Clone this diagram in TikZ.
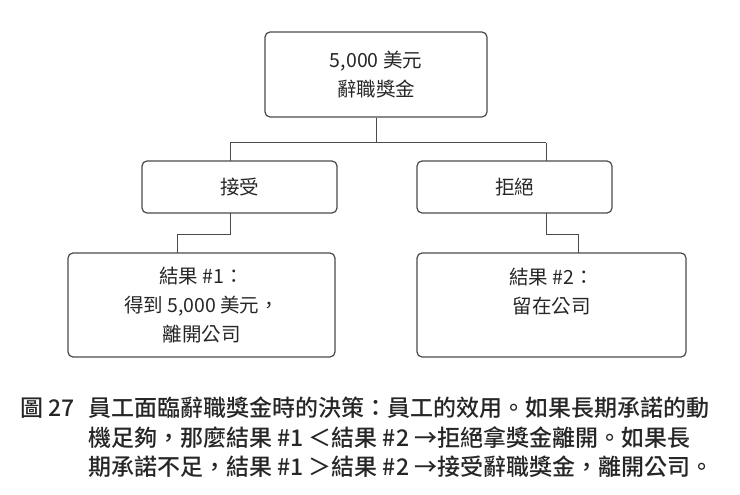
\documentclass[tikz,border=0pt]{standalone}
\usepackage{fontspec}
\setmainfont{Noto Sans CJK TC}
\newfontfamily\capfont{Noto Sans CJK TC Medium}
\usetikzlibrary{positioning}
\definecolor{linegray}{HTML}{4A4A4A}
\tikzstyle{block} = [rectangle, draw=linegray, line width=1.2pt, rounded corners=5pt,
    text=black!85, align=center, font=\fontsize{19.5}{29}\selectfont, inner sep=0pt]
\tikzstyle{line} = [draw=linegray, line width=1pt]
\tikzstyle{caption} = [anchor=west, inner sep=0pt, font=\capfont\fontsize{23}{24}\selectfont, text=black!85]
\begin{document}
\begin{tikzpicture}[x=1pt, y=-1pt]
    \useasboundingbox (0,0) rectangle (740,495);
    % Place nodes
    \node [block, minimum width=222pt, minimum height=85pt] (top) at (376,74.5) {5,000 美元\\辭職獎金};
    \node [block, minimum width=195pt, minimum height=52pt] (accept) at (239.5,187) {接受};
    \node [block, minimum width=195pt, minimum height=52pt] (reject) at (514.5,187) {拒絕};
    \node [block, minimum width=267pt, minimum height=104pt] (out1) at (201.5,305) {結果 \#1：\\得到 5,000 美元，\\離開公司};
    \node [block, minimum width=269pt, minimum height=104pt] (out2) at (551.5,305) {結果 \#2：\\留在公司\\\phantom{x}};
    \coordinate (split) at (376,143);
    % Draw edges
    \path [line] (top.south) -- (split);
    \path [line] (split -| 230,0) -- (split -| 546,0);
    \path [line] (split -| 230,0) -- (230,161);
    \path [line] (split -| 546,0) -- (546,161);
    \path [line] (230,213) -- (230,234) -- (177,234) -- (177,253);
    \path [line] (546,213) -- (546,234) -- (578,234) -- (578,253);
    % caption
    \node [caption] (fig) at (20,408) {圖 27};
    \node [caption] (c1) at (88,408) {員工面臨辭職獎金時的決策：員工的效用。如果長期承諾的動};
    \node [caption] (c2) at (88,438) {機足夠，那麼結果 \#1 ＜結果 \#2 →拒絕拿獎金離開。如果長};
    \node [caption] (c3) at (88,467) {期承諾不足，結果 \#1 ＞結果 \#2 →接受辭職獎金，離開公司。};
\end{tikzpicture}
\end{document}
